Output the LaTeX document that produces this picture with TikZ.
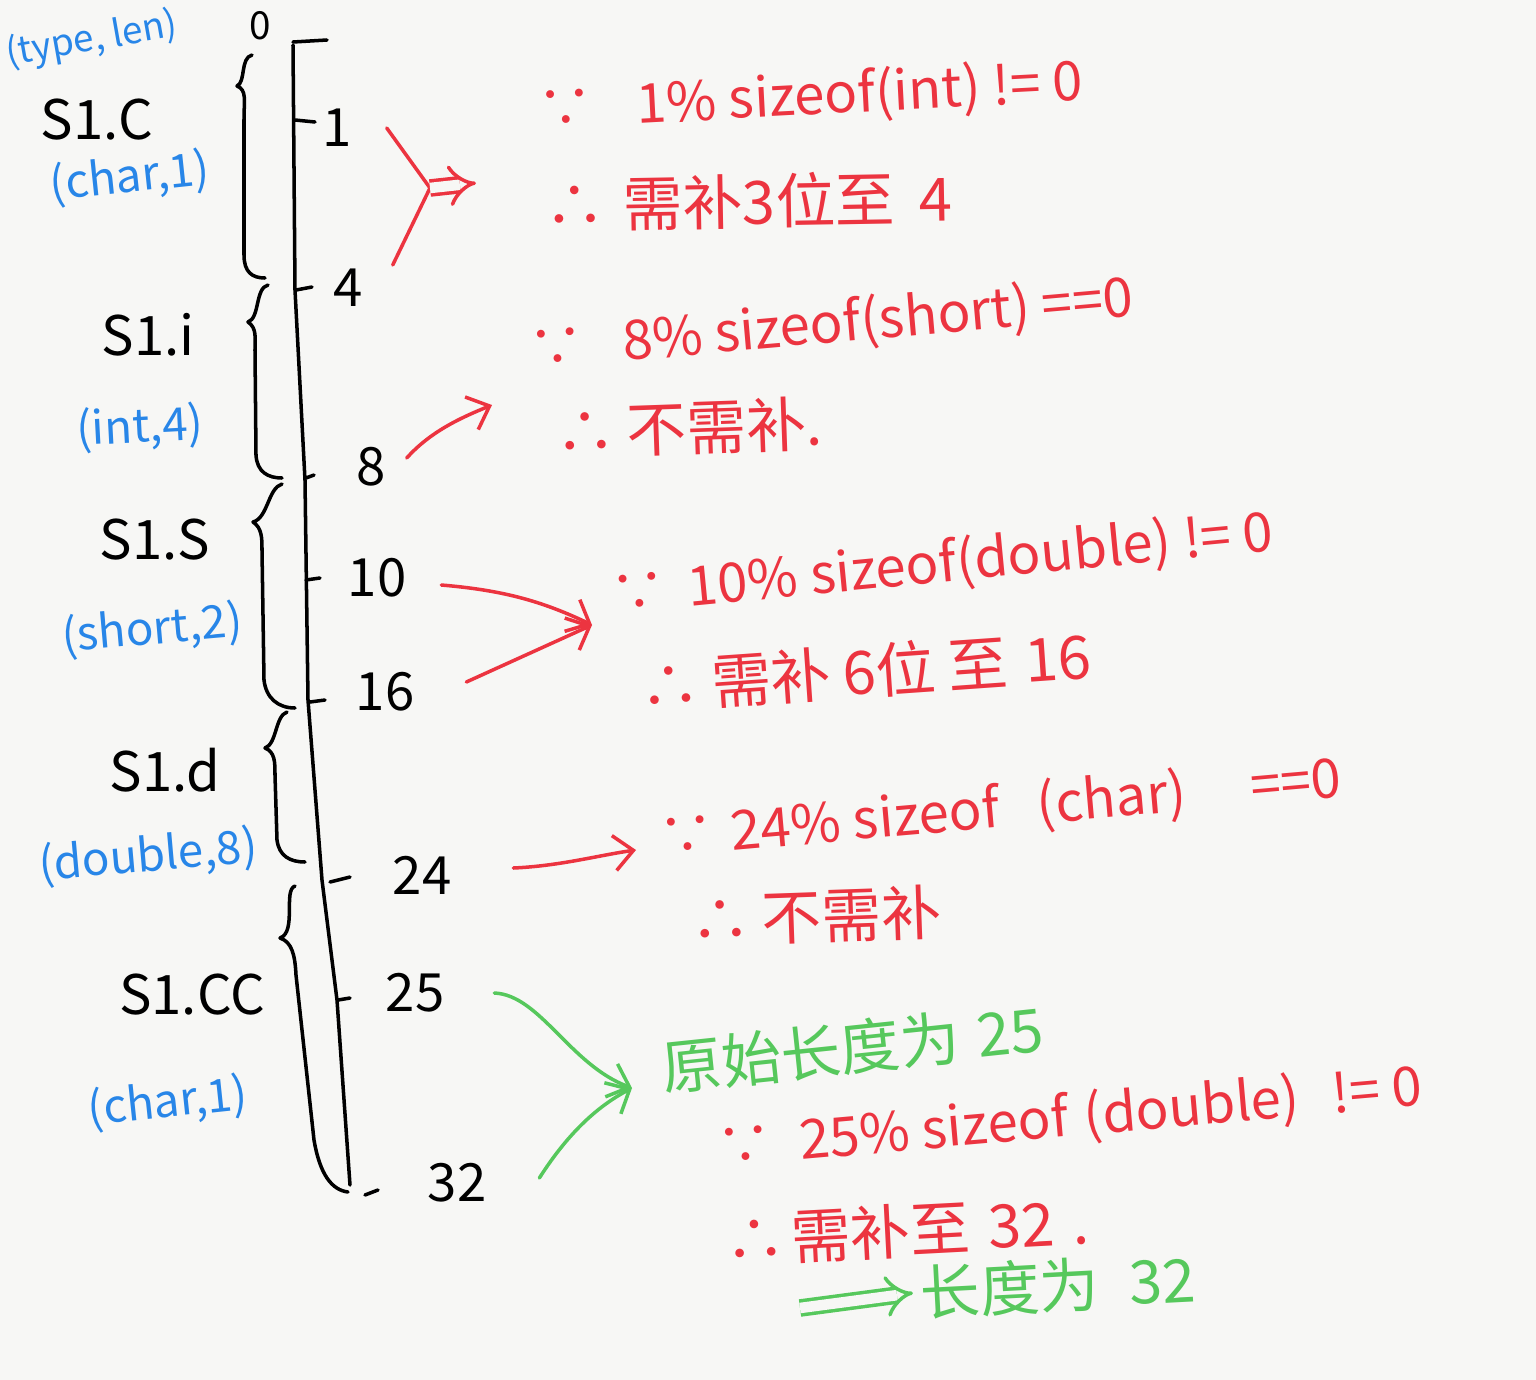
\documentclass[tikz,border=0pt]{standalone}
\usepackage{fontspec}
\setmainfont{Noto Sans CJK SC}
\usetikzlibrary{arrows.meta,positioning,calc}
\definecolor{paper}{RGB}{247,247,245}
\definecolor{inkred}{RGB}{236,52,64}
\definecolor{inkblue}{RGB}{40,134,232}
\definecolor{inkgreen}{RGB}{86,200,92}

\begin{document}
\begin{tikzpicture}[x=0.02cm,y=-0.02cm,
  ink/.style={line width=2pt,line cap=round,line join=round},
  mem/.style={font=\fontsize{31}{31}\selectfont,inner sep=0pt},
  typ/.style={font=\fontsize{26}{26}\selectfont,text=inkblue,inner sep=0pt},
  off/.style={font=\fontsize{30}{30}\selectfont,inner sep=1pt},
  why/.style={font=\fontsize{31}{31}\selectfont,text=inkred,anchor=west,inner sep=0pt},
  so/.style={why,font=\fontsize{34}{34}\selectfont},
  redarr/.style={ink,inkred,-{Straight Barb[length=11pt,width=20pt]}},
  grnarr/.style={ink,inkgreen,-{Straight Barb[length=11pt,width=20pt]}},
  dbl/.style={line width=2pt,double=paper,double distance=6pt,-{Implies}}]
\useasboundingbox (0,0) rectangle (1536,1380);
\fill[paper] (0,0) rectangle (1536,1380);

% memory axis
\draw[ink] (293,42) -- (327,40);
\draw[ink] (293,45) -- (295,290) -- (305,480) -- (308,700) -- (322,880) -- (337,1000) -- (350,1185);
\draw[ink] (295,120) -- (315,122);
\draw[ink] (296,290) -- (312,287);
\draw[ink] (306,478) -- (314,475);
\draw[ink] (306,580) -- (320,578);
\draw[ink] (310,702) -- (325,700);
\draw[ink] (330,882) -- (350,877);
\draw[ink] (338,1000) -- (350,998);
\draw[ink] (365,1195) -- (378,1190);

% offsets
\node[off,font=\fontsize{22}{22}\selectfont] (t0) at (260,26) {0};
\node[off] (t1) at (337,128) {1};
\node[off] (t4) at (348,288) {4};
\node[off] (t8) at (371,467) {8};
\node[off] (t10) at (377,578) {10};
\node[off] (t16) at (385,692) {16};
\node[off] (t24) at (422,875) {24};
\node[off] (t25) at (415,993) {25};
\node[off] (t32) at (457,1183) {32};

% braces
\draw[ink] (252,55) .. controls (240,58) and (246,82) .. (237,86) .. controls (247,90) and (244,100) .. (244,120) -- (244,255) .. controls (244,272) and (252,278) .. (265,278);
\draw[ink] (268,285) .. controls (255,288) and (260,318) .. (248,322) .. controls (257,328) and (255,338) .. (255,350) -- (256,455) .. controls (257,472) and (268,478) .. (282,478);
\draw[ink] (282,484) .. controls (268,488) and (268,518) .. (253,522) .. controls (262,528) and (262,538) .. (262,550) -- (264,680) .. controls (266,698) and (278,708) .. (295,708);
\draw[ink] (287,712) .. controls (275,716) and (277,744) .. (265,748) .. controls (275,752) and (275,762) .. (275,775) -- (277,840) .. controls (279,856) and (290,862) .. (305,862);
\draw[ink] (295,886) .. controls (283,890) and (297,932) .. (280,938) .. controls (292,942) and (295,955) .. (296,975) -- (314,1140) .. controls (320,1175) and (332,1190) .. (348,1192);

% members
\node[typ,rotate=10,font=\fontsize{21}{21}\selectfont] (hdr) at (92,40) {(type, len)};
\node[mem] (mC) at (97,120) {S1.C};
\node[typ,rotate=6] (tC) at (130,178) {(char,1)};
\node[mem] (mI) at (148,335) {S1.i};
\node[typ,rotate=3] (tI) at (140,428) {(int,4)};
\node[mem] (mS) at (155,540) {S1.S};
\node[typ,rotate=5] (tS) at (152,630) {(short,2)};
\node[mem] (mD) at (165,770) {S1.d};
\node[typ,rotate=5] (tD) at (148,857) {(double,8)};
\node[mem] (mCC) at (192,995) {S1.CC};
\node[typ,rotate=6] (tCC) at (168,1103) {(char,1)};

% reasoning
\node[why,rotate=3] (w1) at (538,112) {∵\hspace{0.8em}1\% sizeof(int) != 0};
\node[so,rotate=1] (s1) at (545,205) {∴\hspace{0.3em}需补3位至\hspace{0.4em}4};
\node[why,rotate=5] (w2) at (530,352) {∵\hspace{0.7em}8\% sizeof(short) ==0};
\node[so,rotate=2] (s2) at (555,432) {∴\hspace{0.2em}不需补.};
\node[why,rotate=5.5] (w3) at (612,597) {∵\hspace{0.4em}10\% sizeof(double) != 0};
\node[so,rotate=4] (s3) at (640,687) {∴\hspace{0.2em}需补\hspace{0.2em}6位\hspace{0.2em}至\hspace{0.3em}16};
\node[why,rotate=5] (w4) at (660,840) {∵\hspace{0.3em}24\% sizeof\hspace{0.7em}(char)\hspace{1.2em}==0};
\node[so,rotate=2] (s4) at (690,920) {∴\hspace{0.2em}不需补};
\node[so,rotate=6,text=inkgreen] (g1) at (662,1068) {原始长度为\hspace{0.3em}25};
\node[why,rotate=5] (w5) at (718,1150) {∵\hspace{0.5em}25\% sizeof\hspace{0.3em}(double)\hspace{0.6em}!= 0};
\node[so,rotate=3] (s5) at (725,1240) {∴\hspace{0.1em}需补至\hspace{0.3em}32\hspace{0.3em}.};
\node[so,rotate=3,text=inkgreen] (g2) at (920,1293) {长度为\hspace{0.5em}32};

% arrows
\coordinate (jA) at (430,188);
\coordinate (jB) at (476,183);
\coordinate (a8) at (492,405);
\coordinate (j16) at (592,625);
\coordinate (a24) at (636,850);
\coordinate (j32) at (632,1088);
\coordinate (g0) at (800,1308);
\draw[ink,inkred] ($(t1.east)+(33,0)$) -- (jA);
\draw[ink,inkred] ($(t4.east)+(28,-23)$) -- (jA);
\draw[dbl,inkred] (jA) -- (jB);
\draw[redarr] ($(t8.east)+(19,-9)$) .. controls (430,432) and (460,418) .. (a8);
\draw[redarr] ($(t10.east)+(33,7)$) .. controls (500,590) and (540,600) .. (j16);
\draw[redarr] ($(t16.east)+(50,-10)$) -- (j16);
\draw[redarr] ($(t24.east)+(60,-7)$) .. controls (560,866) and (600,855) .. (a24);
\draw[grnarr] ($(t25.east)+(48,0)$) .. controls (540,995) and (570,1065) .. (j32);
\draw[grnarr] ($(t32.east)+(51,-5)$) .. controls (570,1130) and (600,1105) .. (j32);
\draw[dbl,inkgreen] (g0) -- ([xshift=-4pt]g2.west);
\end{tikzpicture}
\end{document}
